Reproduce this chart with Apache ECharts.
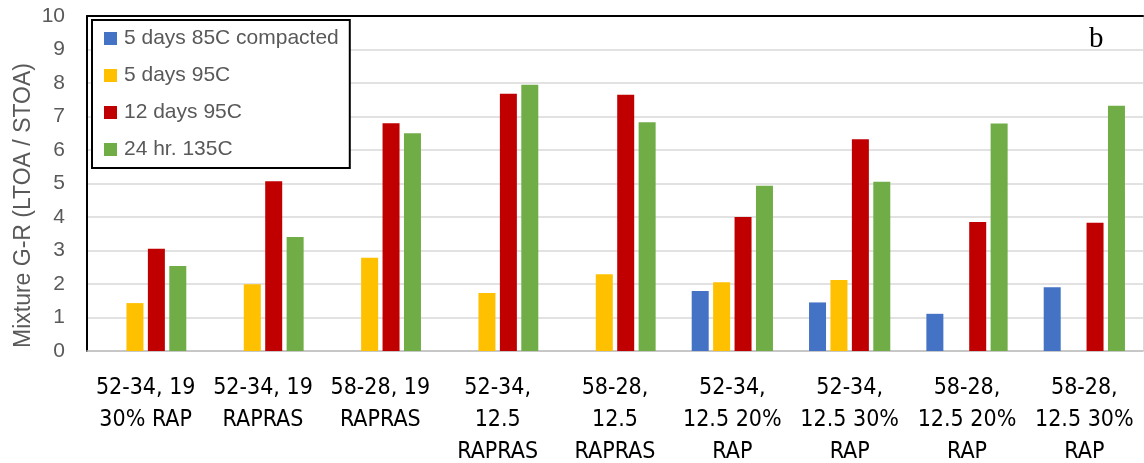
<!DOCTYPE html>
<html>
<head>
<meta charset="utf-8">
<script src="https://cdn.jsdelivr.net/npm/echarts@6/dist/echarts.min.js"></script>
<style>
  html, body { margin: 0; padding: 0; background: #fff; }
  #chart { width: 1144px; height: 463px; }
</style>
</head>
<body>
<div id="chart"></div>
<script>
// Mix designs (x categories)
const categories = [
  '52-34, 19\n30% RAP',
  '52-34, 19\nRAPRAS',
  '58-28, 19\nRAPRAS',
  '52-34,\n12.5\nRAPRAS',
  '58-28,\n12.5\nRAPRAS',
  '52-34,\n12.5 20%\nRAP',
  '52-34,\n12.5 30%\nRAP',
  '58-28,\n12.5 20%\nRAP',
  '58-28,\n12.5 30%\nRAP'
];

// Aging conditions (series names)
const seriesNames = ['5 days 85C compacted', '5 days 95C', '12 days 95C', '24 hr. 135C'];

// Mixture G-R ratio (LTOA / STOA); null = not tested
const days5at85Compacted = [null, null, null, null, null, 1.79, 1.45, 1.11, 1.90];
const days5at95 = [1.43, 1.99, 2.78, 1.73, 2.29, 2.05, 2.12, null, null];
const days12at95 = [3.05, 5.07, 6.80, 7.68, 7.65, 4.00, 6.32, 3.85, 3.83];
const hr24at135 = [2.54, 3.40, 6.50, 7.95, 6.83, 4.93, 5.05, 6.79, 7.32];

const yTicks = [0, 1, 2, 3, 4, 5, 6, 7, 8, 9, 10];

const colors = ['#4472C4', '#FFC000', '#C00000', '#70AD47'];
const values = [days5at85Compacted, days5at95, days12at95, hr24at135];

const chart = echarts.init(document.getElementById('chart'), null, { renderer: 'canvas' });

const series = seriesNames.map((name, i) => ({
  name: name,
  type: 'bar',
  data: values[i],
  barWidth: 17,
  barGap: '26%',
  itemStyle: { color: colors[i] },
  xAxisIndex: 0,
  yAxisIndex: 0
}));

chart.setOption({
  animation: false,
  backgroundColor: '#fff',
  color: colors,
  grid: {
    left: 87, top: 16, width: 1056, height: 335,
    containLabel: false,
    outerBoundsMode: 'none'
  },
  legend: {
    data: seriesNames,
    orient: 'vertical',
    left: 92,
    top: 20,
    padding: [7, 11, 7, 12],
    itemWidth: 13,
    itemHeight: 13,
    itemGap: 14,
    borderColor: '#000',
    borderWidth: 2,
    backgroundColor: '#fff',
    icon: 'rect',
    textStyle: {
      fontFamily: 'Liberation Sans, Arial, sans-serif',
      fontSize: 21,
      lineHeight: 23,
      color: '#595959',
      padding: [0, 0, 0, 2]
    }
  },
  xAxis: [
    {
      type: 'category',
      data: categories,
      position: 'bottom',
      axisLine: { show: true, lineStyle: { color: '#bfbfbf', width: 1.5 } },
      axisTick: { show: false },
      axisLabel: {
        interval: 0,
        margin: 21,
        fontFamily: 'DejaVu Sans Condensed, Liberation Sans Narrow, sans-serif',
        fontSize: 23,
        lineHeight: 32,
        color: '#000'
      },
      splitLine: { show: false }
    },
    {
      // top frame line of the plot
      type: 'category',
      data: categories,
      position: 'top',
      axisLine: { show: true, onZero: false, lineStyle: { color: '#000', width: 2 } },
      axisTick: { show: false },
      axisLabel: { show: false },
      splitLine: { show: false }
    }
  ],
  yAxis: [
    {
      type: 'value',
      min: yTicks[0],
      max: yTicks[yTicks.length - 1],
      interval: 1,
      name: 'Mixture G-R (LTOA / STOA)',
      nameLocation: 'middle',
      nameGap: 52,
      nameMoveOverlap: false,
      nameTextStyle: {
        fontFamily: 'Liberation Sans, Arial, sans-serif',
        fontSize: 23,
        color: '#595959',
        padding: [0, 44, 0, 0]
      },
      axisLine: { show: true, lineStyle: { color: '#000', width: 2 } },
      axisTick: { show: false },
      axisLabel: {
        margin: 22,
        fontFamily: 'Liberation Sans, Arial, sans-serif',
        fontSize: 21,
        color: '#595959'
      },
      splitLine: { show: true, lineStyle: { color: '#d9d9d9', width: 1.5 } }
    },
    {
      // right frame line of the plot
      type: 'value',
      position: 'right',
      min: yTicks[0],
      max: yTicks[yTicks.length - 1],
      interval: 1,
      axisLine: { show: true, lineStyle: { color: '#d9d9d9', width: 1 } },
      axisTick: { show: false },
      axisLabel: { show: false },
      splitLine: { show: false }
    }
  ],
  graphic: [
    {
      type: 'text',
      left: 1089,
      top: 25,
      style: {
        text: 'b',
        fontFamily: 'Liberation Serif, Times New Roman, serif',
        fontSize: 29,
        fill: '#000'
      }
    }
  ],
  series: series
});
</script>
</body>
</html>
